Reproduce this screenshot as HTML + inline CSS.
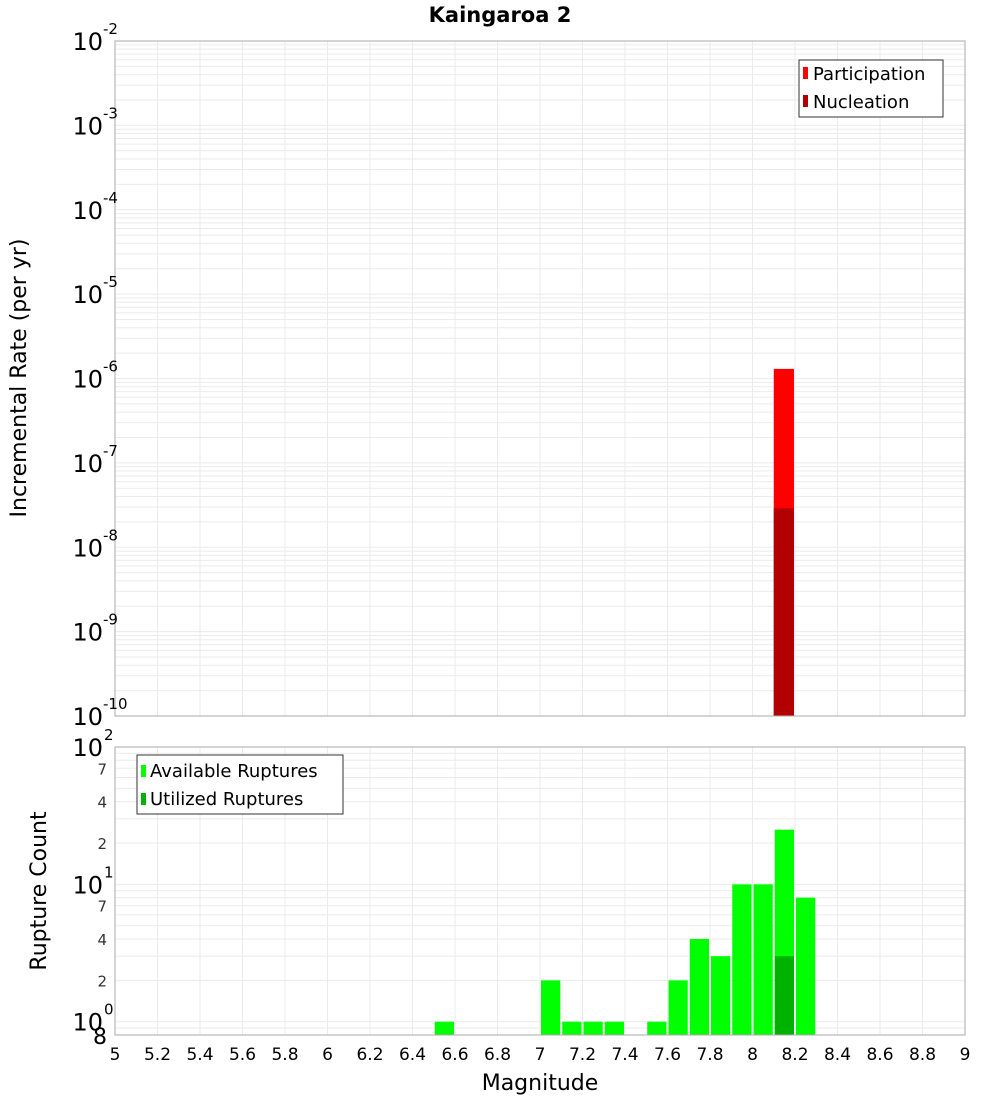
<!DOCTYPE html>
<html><head><meta charset="utf-8"><style>
body{margin:0;background:#fff;width:1000px;height:1100px;overflow:hidden}
svg{font-family:"DejaVu Sans","Liberation Sans",sans-serif}
</style></head><body>
<svg id="c" width="1000" height="1100"></svg>
<script>
const xTicks=[5,5.2,5.4,5.6,5.8,6,6.2,6.4,6.6,6.8,7,7.2,7.4,7.6,7.8,8,8.2,8.4,8.6,8.8,9];
const topMags=[8.15];
const participation=[1.3e-6];
const nucleation=[2.9e-8];
const botMags=[6.55,7.05,7.15,7.25,7.35,7.55,7.65,7.75,7.85,7.95,8.05,8.15,8.25];
const available=[1,2,1,1,1,1,2,4,3,10,10,25,8];
const utilMags=[8.15];
const utilized=[3];
const topExps=[-10,-9,-8,-7,-6,-5,-4,-3,-2];

const svg=document.getElementById('c');const NS='http://www.w3.org/2000/svg';
function el(t,a,p){const e=document.createElementNS(NS,t);for(const k in a)e.setAttribute(k,a[k]);(p||svg).appendChild(e);return e;}
const L=115,R=965,T1=41,B1=716,T2=747,B2=1035;
const x=v=>L+(v-5)/4*(R-L);
const y1=v=>B1-(Math.log10(v)+10)/8*(B1-T1);
const y2=v=>B2-(Math.log10(v)-Math.log10(0.8))/(2-Math.log10(0.8))*(B2-T2);
// grids
for(const t of xTicks){const g=el('line',{x1:x(t),x2:x(t),y1:T1,y2:B1,stroke:'#ebebeb'});
const g2=el('line',{x1:x(t),x2:x(t),y1:T2,y2:B2,stroke:'#ebebeb'});}
for(let e=-10;e<-2;e++)for(let m=1;m<10;m++){const yy=y1(m*Math.pow(10,e));const g=el('line',{x1:L,x2:R,y1:yy,y2:yy,stroke:'#ebebeb'});}
for(let e=-1;e<2;e++)for(let m=1;m<10;m++){const v=m*Math.pow(10,e);if(v<0.8)continue;const yy=y2(v);const g=el('line',{x1:L,x2:R,y1:yy,y2:yy,stroke:'#ebebeb'});}
// bars top
topMags.forEach((m,i)=>{const b=el('rect',{x:x(m-0.05),width:x(m+0.05)-x(m-0.05)-1,y:y1(participation[i]),height:B1-y1(participation[i]),fill:'#ff0000'});
const n=el('rect',{x:x(m-0.05),width:x(m+0.05)-x(m-0.05)-1,y:y1(nucleation[i]),height:B1-y1(nucleation[i]),fill:'#b20000'});});
botMags.forEach((m,i)=>{const b=el('rect',{x:x(m-0.05)+1,width:x(m+0.05)-x(m-0.05)-2,y:y2(available[i]),height:B2-y2(available[i]),fill:'#00ff00'});});
utilMags.forEach((m,i)=>{const b=el('rect',{x:x(m-0.05)+1,width:x(m+0.05)-x(m-0.05)-2,y:y2(utilized[i]),height:B2-y2(utilized[i]),fill:'#00b200'});});
// frames
let f=el('rect',{x:L,y:T1,width:R-L,height:B1-T1,fill:'none',stroke:'#aaa'});
f=el('rect',{x:L,y:T2,width:R-L,height:B2-T2,fill:'none',stroke:'#aaa'});
// top y labels
topExps.forEach(e=>{const t=el('text',{x:103,y:y1(Math.pow(10,e))+9,'text-anchor':'end','font-size':24});t.textContent='10';
const s=el('text',{x:103,y:y1(Math.pow(10,e))-7,'font-size':15});s.textContent=String(e);});
// bottom y labels
[0,1,2].forEach(e=>{const t=el('text',{x:103,y:y2(Math.pow(10,e))+9,'text-anchor':'end','font-size':24});t.textContent='10';
const s=el('text',{x:104,y:y2(Math.pow(10,e))-7,'font-size':15});s.textContent=String(e);});
[[0.8,'8'],[2,'2'],[4,'4'],[7,'7'],[20,'2'],[40,'4'],[70,'7']].forEach(([v,l])=>{const t=el('text',{x:107,y:y2(v)+(v==0.8?9:6),'text-anchor':'end','font-size':v==0.8?22:15,fill:v==0.8?'#000':'#333'});t.textContent=l;});
// x labels
xTicks.forEach(v=>{const t=el('text',{x:x(v),y:1060,'text-anchor':'middle','font-size':17});t.textContent=String(v);});
</script>
<svg style="position:absolute;left:0;top:0" width="1000" height="1100">
<text x="500" y="22" text-anchor="middle" font-size="21" font-weight="bold">Kaingaroa 2</text>
<text x="540" y="1090" text-anchor="middle" font-size="22">Magnitude</text>
<text transform="translate(26,378) rotate(-90)" text-anchor="middle" font-size="22">Incremental Rate (per yr)</text>
<text transform="translate(46,891) rotate(-90)" text-anchor="middle" font-size="22">Rupture Count</text>
<g>
<rect x="799" y="60" width="144" height="57" fill="#fff" stroke="#333"/>
<rect x="803" y="67" width="5" height="12" fill="#ff0000"/>
<text x="813" y="80" font-size="18">Participation</text>
<rect x="803" y="95" width="5" height="12" fill="#b20000"/>
<text x="813" y="108" font-size="18">Nucleation</text>
</g>
<g>
<rect x="137" y="755" width="206" height="59" fill="#fff" stroke="#333"/>
<rect x="141" y="765" width="5" height="12" fill="#00ff00"/>
<text x="150" y="777" font-size="18">Available Ruptures</text>
<rect x="141" y="793" width="5" height="12" fill="#00b200"/>
<text x="150" y="805" font-size="18">Utilized Ruptures</text>
</g>
</svg>
</body></html>
